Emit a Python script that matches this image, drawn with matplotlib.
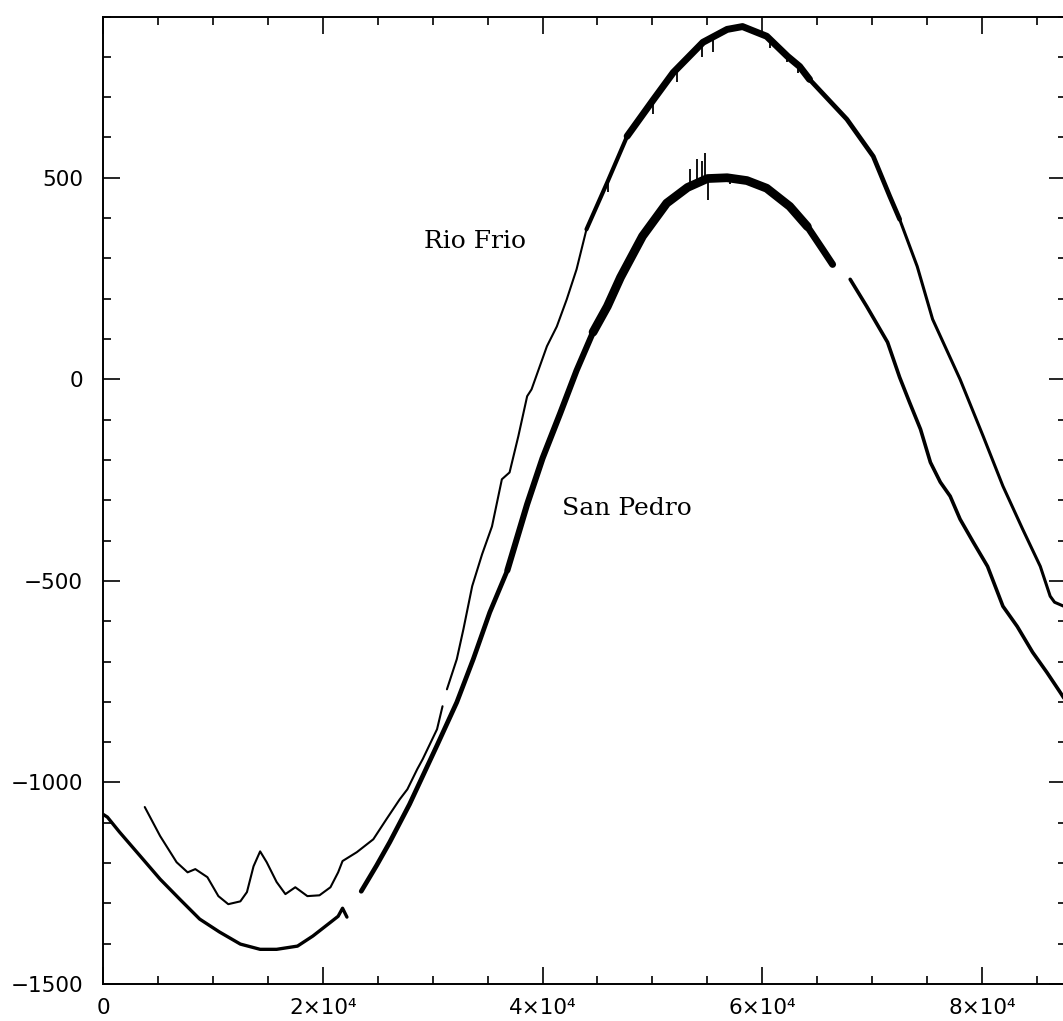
import numpy as np
import matplotlib
matplotlib.use("Agg")
import matplotlib.pyplot as plt
from matplotlib.ticker import MultipleLocator, FixedLocator, FixedFormatter

# Rio Frio trace (x, value); NaN marks a break in the record
rio_frio_x = [3800, 5200, 6700, 7700, 8400, 9500, 10500, 11400, 12500, 13100,
              13700, 14300, 14900, 15800, 16600, 17500, 18600, 19700, 20700, 21400,
              21800, 23100, 24600, 25800, 27000, 27700, 28600, 29100, 30400, 30900,
              31100, 31300, 32200, 32800, 33600, 34500, 35400, 36300, 37000, 37800,
              38600, 39000, 40400, 41300, 42200, 43100, 44000, 45900, 47700, 50100,
              51900, 54600, 56800, 58200, 60400, 62300, 63400, 64300, 67700, 70100,
              71600, 72500, 74100, 75500, 78000, 80100, 81900, 83700, 85300, 86200,
              86600, 87700]
rio_frio_y = [-1061, -1133, -1198, -1223, -1215, -1235, -1282, -1302, -1295, -1272,
              -1208, -1171, -1198, -1247, -1277, -1260, -1282, -1280, -1260, -1223,
              -1195, -1173, -1141, -1091, -1042, -1017, -967, -942, -868, -811,
              np.nan, -769, -694, -620, -513, -434, -365, -248, -231, -141,
              -42, -25, 82, 131, 198, 273, 372, 489, 603, 694,
              761, 836, 868, 875, 851, 801, 776, 744, 645, 553,
              454, 397, 280, 149, 0, -141, -265, -372, -464, -538,
              -553, -566]

# San Pedro trace (x, value); NaN marks a break in the record
san_pedro_x = [0, 400, 1500, 3400, 5200, 7000, 8800, 10600, 12500, 14300,
               15800, 17700, 19100, 20700, 21400, 21800, 22200, 22900, 23500, 24900,
               26100, 27900, 29100, 30400, 32200, 33700, 35200, 36800, 38600, 40000,
               41600, 43100, 44600, 45900, 47100, 49100, 51300, 53200, 55000, 56800,
               58600, 60400, 62500, 64100, 65500, 66400, 67200, 68000, 69500, 71400,
               72500, 73400, 74400, 75300, 76200, 77100, 78000, 79200, 80500, 81900,
               83200, 84600, 85900, 87100, 87700]
san_pedro_y = [-1079, -1086, -1123, -1183, -1240, -1290, -1339, -1371, -1401, -1414,
               -1414, -1406, -1381, -1347, -1332, -1312, -1334, np.nan, -1270, -1206,
               -1148, -1054, -984, -908, -801, -694, -578, -474, -310, -196,
               -85, 22, 117, 181, 253, 355, 437, 476, 498, 500,
               493, 474, 429, 379, 322, 285, np.nan, 248, 181, 92,
               5, -57, -124, -206, -255, -290, -347, -404, -464, -563,
               -613, -677, -727, -776, -801]

# Isolated noise spikes near the maxima (x, spike tip value)
rio_frio_spike_x = [45960, 48400, 50060, 52240, 54515, 55516, 60700, 62250, 63250]
rio_frio_spike_tip = [464, 625, 657, 737, 799, 811, 823, 786, 761]
san_pedro_spike_x = [53423, 54060, 54515, 54788, 55061, 57100, 61500, 63250]
san_pedro_spike_tip = [521, 546, 541, 562, 446, 484, 439, 397]

x_major = [0, 20000, 40000, 60000, 80000]
x_labels = ["0", "2×10⁴", "4×10⁴", "6×10⁴", "8×10⁴"]
y_major = [-1500, -1000, -500, 0, 500]
y_labels = ["−1500", "−1000", "−500", "0", "500"]

W, H = 1063, 1021
fig = plt.figure(figsize=(W / 100, H / 100), dpi=100)
ax = fig.add_axes([103 / W, 37 / H, (1066 - 103) / W, (984 - 16.5) / H])
ax.set_xlim(0, 87640)
ax.set_ylim(-1500, 900)


def draw_trace(xs, ys, pieces):
    """Draw a trace in pieces, each x-range with its own stroke weight."""
    xs = np.asarray(xs, float)
    ys = np.asarray(ys, float)
    for x0, x1, lw in pieces:
        m = (xs >= x0) & (xs <= x1)
        ax.plot(xs[m], ys[m], color="black", lw=lw,
                solid_joinstyle="round", solid_capstyle="round")


def draw_spikes(xs, ys, sx, tips):
    """Short vertical strokes from the trace out to each spike tip."""
    xs = np.asarray(xs, float)
    ys = np.asarray(ys, float)
    ok = ~np.isnan(ys)
    base = np.interp(sx, xs[ok], ys[ok])
    ax.vlines(sx, base, tips, color="black", lw=1.3)


draw_trace(rio_frio_x, rio_frio_y,
           [(0, 44000, 1.5), (44000, 47700, 3.0), (47700, 64300, 5.0),
            (64300, 72500, 3.4), (72500, 90000, 2.2)])
draw_trace(san_pedro_x, san_pedro_y,
           [(0, 22300, 2.4), (23000, 36800, 3.4), (36800, 44600, 4.4),
            (44600, 64100, 6.3), (64100, 66500, 5.0), (67000, 90000, 2.6)])
draw_spikes(rio_frio_x, rio_frio_y, rio_frio_spike_x, rio_frio_spike_tip)
draw_spikes(san_pedro_x, san_pedro_y, san_pedro_spike_x, san_pedro_spike_tip)

ax.text(33900, 342, "Rio Frio", family="DejaVu Serif", fontsize=18,
        ha="center", va="center")
ax.text(47700, -320, "San Pedro", family="DejaVu Serif", fontsize=18,
        ha="center", va="center")

# Axes frame and inward ticks on all four sides
for s in ax.spines.values():
    s.set_linewidth(1.4)
ax.xaxis.set_major_locator(FixedLocator(x_major))
ax.xaxis.set_major_formatter(FixedFormatter(x_labels))
ax.xaxis.set_minor_locator(MultipleLocator(5000))
ax.yaxis.set_major_locator(FixedLocator(y_major))
ax.yaxis.set_major_formatter(FixedFormatter(y_labels))
ax.yaxis.set_minor_locator(MultipleLocator(100))
ax.tick_params(which="both", direction="in", top=True, right=True,
               width=1.2, labelsize=15.5, colors="black")
ax.tick_params(which="major", length=12)
ax.tick_params(which="minor", length=6)
ax.tick_params(axis="x", pad=10)
ax.tick_params(axis="y", pad=14.5)

fig.savefig("out.png", dpi=100)
